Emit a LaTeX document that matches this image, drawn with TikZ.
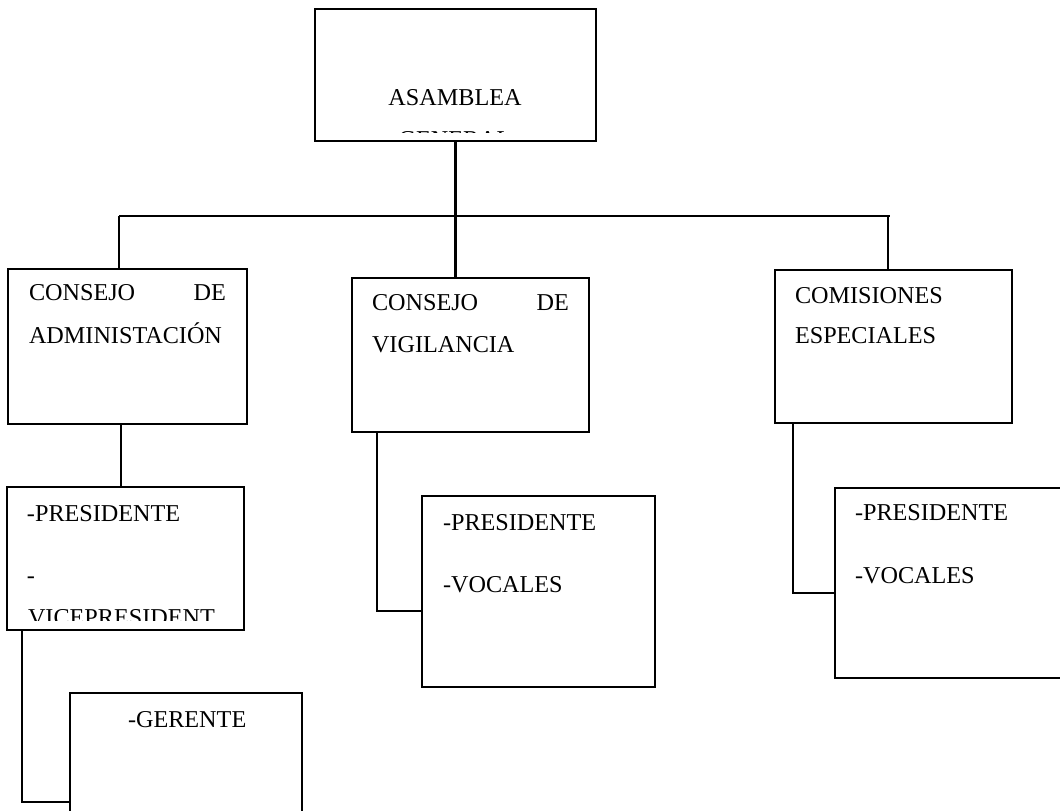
\documentclass[tikz,border=0pt]{standalone}
\usepackage{fontspec}
\setmainfont{Liberation Serif}
\begin{document}
\begin{tikzpicture}[x=1pt,y=-1pt,
  box/.style={draw,line width=2.2pt,anchor=north west,inner sep=0pt,outer sep=0pt},
  txt/.style={inner sep=0pt,outer sep=0pt,font=\fontsize{24.2}{29}\selectfont},
  con/.style={line width=2.1pt}]
\useasboundingbox (0,0) rectangle (1060,811);
% boxes
\node[box,minimum width=281pt,minimum height=132pt] (asm) at (315,9) {};
\node[box,minimum width=239pt,minimum height=155pt] (adm) at (8,269) {};
\node[box,minimum width=237pt,minimum height=154pt] (vig) at (352,278) {};
\node[box,minimum width=237pt,minimum height=153pt] (com) at (775,270) {};
\node[box,minimum width=237pt,minimum height=143pt] (p1) at (7,487) {};
\node[box,minimum width=233pt,minimum height=191pt] (p2) at (422,496) {};
\node[box,minimum width=240pt,minimum height=190pt] (p3) at (835,488) {};
\node[box,minimum width=232pt,minimum height=140pt] (ger) at (70,693) {};
% texts
\node[txt,anchor=base] (t1) at (455,105) {ASAMBLEA};
\begin{scope}
\clip (315,100) rectangle (596,132);
\node[txt,anchor=base] (t2) at (455,147) {GENERAL};
\end{scope}
\node[txt,anchor=base west] (t3) at (29,300) {CONSEJO};
\node[txt,anchor=base east] (t4) at (226,300) {DE};
\node[txt,anchor=base west] (t5) at (29,343) {ADMINISTACIÓN};
\node[txt,anchor=base west] (t6) at (372,310) {CONSEJO};
\node[txt,anchor=base east] (t7) at (569,310) {DE};
\node[txt,anchor=base west] (t8) at (372,352) {VIGILANCIA};
\node[txt,anchor=base west] (t9) at (795,303) {COMISIONES};
\node[txt,anchor=base west] (t10) at (795,343) {ESPECIALES};
\node[txt,anchor=base west] (t11) at (27,521) {-PRESIDENTE};
\node[txt,anchor=base west] (t12) at (27,583) {-};
\begin{scope}
\clip (10,590) rectangle (240,620);
\node[txt,anchor=base west] (t13) at (28,625) {VICEPRESIDENT};
\end{scope}
\node[txt,anchor=base west] (t14) at (443,530) {-PRESIDENTE};
\node[txt,anchor=base west] (t15) at (443,592) {-VOCALES};
\node[txt,anchor=base west] (t16) at (855,520) {-PRESIDENTE};
\node[txt,anchor=base west] (t17) at (855,583) {-VOCALES};
\node[txt,anchor=base west] (t18) at (128,727) {-GERENTE};
% connector coordinates
\coordinate (busL) at (119,216);
\coordinate (busR) at (890,216);
\coordinate (cR) at (888,216);
\coordinate (k1) at (121,0);
\coordinate (k2) at (377,611);
\coordinate (k3) at (793,593);
\coordinate (k4) at (22,802);
% connectors
\draw[con] (asm.south) -- (asm.south |- vig.north);
\draw[con] (busL) -- (busR);
\draw[con] (busL) -- (busL |- adm.north);
\draw[con] (cR) -- (cR |- com.north);
\draw[con] (k1 |- adm.south) -- (k1 |- p1.north);
\draw[con] (k2 |- vig.south) -- (k2) -- (k2 -| p2.west);
\draw[con] (k3 |- com.south) -- (k3) -- (k3 -| p3.west);
\draw[con] (k4 |- p1.south) -- (k4) -- (k4 -| ger.west);
\end{tikzpicture}
\end{document}
